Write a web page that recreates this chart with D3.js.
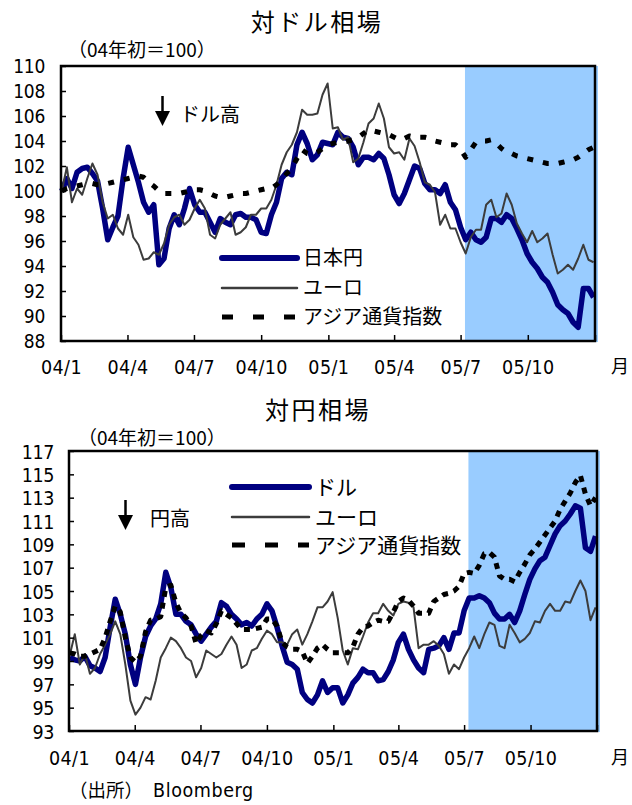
<!DOCTYPE html>
<html><head><meta charset="utf-8">
<script src="https://cdn.jsdelivr.net/npm/d3@7"></script>
<style>
body{margin:0;background:#fff;}
text{font-family:"Noto Sans CJK JP","Noto Sans",sans-serif;fill:#000;}
text.num, tspan.num{font-family:"Liberation Sans Narrow","DejaVu Sans Condensed",sans-serif;}
</style></head><body><svg id="c" width="632" height="805"></svg>
<script>
// ---------- DATA (weekly readings, index: start of 2004 = 100) ----------
const startDate = "2004-01-02";            // first weekly observation
const quarterTicks = ["2004-01-01","2004-04-01","2004-07-01","2004-10-01","2005-01-01","2005-04-01","2005-07-01","2005-10-01","2006-01-01"];
const shadeFrom = "2005-07-07";

// Top panel: 対ドル相場
const topYen = [100.0,101.0,100.2,101.5,101.8,101.9,101.4,100.8,98.6,96.1,97.1,98.0,101.0,103.5,102.1,100.7,99.1,98.3,98.9,94.1,94.6,97.0,98.1,97.3,98.6,100.2,98.9,98.3,98.3,97.5,96.7,97.8,97.5,97.3,98.1,98.2,97.9,97.9,97.7,96.7,96.6,98.1,99.1,101.0,101.5,101.3,103.7,104.7,103.8,102.5,102.9,103.9,103.8,103.7,104.7,104.3,104.2,103.5,102.1,102.7,102.7,102.5,103.0,102.6,101.3,99.7,99.0,99.8,100.9,102.0,101.8,100.6,100.1,100.1,99.8,100.5,99.1,98.5,97.1,96.1,96.7,96.1,95.9,96.3,97.8,97.8,97.5,98.1,97.8,97.0,96.1,95.0,94.3,93.8,93.1,92.7,91.9,90.9,90.5,90.2,89.5,89.1,92.2,92.2,91.5];
const topEuro = [100.0,101.9,99.1,100.2,99.7,101.0,102.2,101.3,99.1,97.8,98.1,97.0,96.5,98.1,96.3,95.7,94.5,94.6,95.1,94.9,95.8,97.3,97.9,98.1,97.3,97.7,98.6,99.3,98.6,96.5,96.2,97.3,97.8,98.3,96.5,96.7,97.1,98.1,98.1,98.6,98.6,99.3,100.5,102.1,103.1,103.7,104.7,106.5,106.1,106.1,106.2,107.7,108.6,105.0,105.1,104.1,104.3,102.3,102.6,103.9,105.4,105.8,107.0,105.8,103.5,103.0,103.1,102.5,104.2,103.6,102.3,100.7,100.5,99.9,97.3,98.1,97.0,97.0,95.9,95.0,96.3,96.9,96.9,98.9,99.3,97.9,98.2,99.8,98.9,97.4,96.6,95.9,96.8,95.9,96.2,96.6,94.9,93.4,93.7,94.1,93.7,94.6,95.7,94.5,94.3];
const topAsia = [100.0,100.2,100.3,100.4,100.5,100.6,100.6,100.5,100.5,100.6,100.7,100.8,100.9,101.0,101.1,101.2,101.1,100.7,100.4,100.0,99.8,99.8,99.8,99.8,99.9,100.0,100.1,100.1,100.0,99.8,99.6,99.5,99.5,99.6,99.7,99.8,99.8,99.9,100.0,100.1,100.2,100.2,100.5,100.9,101.4,101.8,102.6,103.3,103.0,102.9,103.1,103.4,103.7,103.8,103.9,103.9,104.0,104.1,104.3,104.6,104.9,104.8,104.7,104.6,104.5,104.3,104.1,104.2,104.4,104.3,104.3,104.3,104.2,104.0,103.9,103.8,103.7,103.7,103.3,102.7,103.3,103.9,104.0,104.0,104.1,103.8,103.4,103.1,103.0,102.8,102.7,102.6,102.5,102.4,102.3,102.2,102.2,102.2,102.3,102.4,102.5,102.7,103.0,103.3,103.5];
const topYTicks = [88,90,92,94,96,98,100,102,104,106,108,110];

// Bottom panel: 対円相場
const botUsd = [99.3,99.1,99.0,99.4,98.6,98.4,98.1,99.3,101.9,104.3,103.0,101.3,98.7,97.0,99.3,101.1,102.0,102.6,103.9,106.6,105.3,103.0,103.0,102.4,102.1,101.3,100.7,101.3,101.9,102.4,104.0,103.7,103.0,102.6,102.1,102.3,102.0,102.6,103.0,103.9,103.3,101.9,100.3,98.9,98.7,98.3,96.3,95.7,95.4,96.1,97.3,96.3,96.7,96.7,95.4,96.1,97.1,97.6,98.3,98.0,98.0,97.3,97.4,98.1,99.1,100.6,101.3,100.0,99.1,98.4,98.0,100.0,100.1,100.3,101.0,100.0,101.4,101.4,103.3,104.4,104.4,104.6,104.4,104.0,103.1,102.6,102.6,103.0,102.3,103.3,104.7,106.0,106.9,107.6,107.9,108.9,109.9,110.6,111.0,111.6,112.3,112.1,108.7,108.4,109.7];
const botEuro = [99.5,101.3,98.7,99.6,97.9,98.4,99.6,100.4,101.3,102.4,101.3,98.7,95.6,94.4,95.0,95.9,95.7,97.3,99.3,100.1,101.0,100.7,100.1,99.3,99.0,97.6,98.4,99.9,99.6,99.3,99.6,100.4,101.1,100.4,98.4,98.7,99.9,100.1,100.9,101.6,101.3,100.6,100.6,100.4,101.3,101.7,100.4,101.3,102.4,103.6,103.6,104.1,104.9,102.7,99.9,98.7,100.1,100.0,101.1,102.3,103.1,103.1,103.9,103.3,102.9,103.9,104.1,104.0,103.6,100.1,100.4,100.4,100.7,100.3,99.6,97.9,98.7,98.3,99.3,100.1,101.1,100.1,101.3,102.3,102.1,100.3,100.1,102.1,101.4,100.6,100.9,101.4,102.4,102.3,103.3,103.9,103.3,103.3,104.1,104.0,105.0,105.9,105.0,102.5,103.6];
const botAsia = [99.7,99.6,99.4,99.4,99.6,99.8,100.0,101.0,102.4,103.7,103.2,101.0,99.3,98.9,99.4,101.5,102.5,102.6,102.8,105.3,105.5,104.0,103.1,102.7,102.0,100.5,101.2,101.6,101.4,102.2,103.3,103.0,102.7,102.2,101.7,101.7,101.7,101.8,101.9,102.6,102.6,102.0,100.6,100.2,100.0,100.0,99.8,98.8,99.4,100.1,100.4,100.0,99.7,99.7,99.7,99.7,100.2,101.3,101.9,102.0,102.3,102.5,102.4,102.4,103.2,104.1,104.4,104.2,103.7,103.1,103.1,103.1,104.1,104.4,104.7,104.8,105.0,105.4,106.5,106.6,106.5,107.2,108.2,108.3,107.9,106.3,106.0,106.0,105.8,106.6,107.3,108.1,108.6,109.2,109.8,110.4,111.0,112.0,112.7,113.4,114.3,114.9,113.3,112.3,113.0];
const botYTicks = [93,95,97,99,101,103,105,107,109,111,113,115,117];

// ---------- DRAWING ----------
const svg = d3.select("#c");
const parse = d3.timeParse("%Y-%m-%d");
const d0 = parse(startDate);
const weeks = d3.range(topYen.length).map(i => d3.timeDay.offset(d0, 7 * i));
const qTicks = quarterTicks.map(parse);
const shadeStart = parse(shadeFrom);
const xDomain = [parse("2004-01-01"), parse("2006-01-01")];
const fmt = d => d.getFullYear() === 2006 ? "" : d3.timeFormat("%y")(d) + "/" + (d.getMonth() + 1);

function panel(p) {
  const g = svg.append("g");
  const x = d3.scaleTime().domain(xDomain).range([p.left, p.right]);
  const y = d3.scaleLinear().domain(p.yDomain).range([p.bottom, p.top]);

  g.append("rect").attr("x", x(shadeStart)).attr("y", p.top)
    .attr("width", p.right + 3 - x(shadeStart)).attr("height", p.bottom - p.top + 1)
    .attr("fill", "#99CCFF");

  const line = d3.line().x((d, i) => x(weeks[i])).y(d => y(d));
  p.series.forEach(s => {
    g.append("path").datum(s.values).attr("d", line)
      .attr("fill", "none").attr("stroke", s.color).attr("stroke-width", s.width)
      .attr("stroke-dasharray", s.plotDash || null).attr("stroke-linejoin", "round");
  });

  g.append("rect").attr("x", p.left).attr("y", p.top)
    .attr("width", p.right - p.left).attr("height", p.bottom - p.top)
    .attr("fill", "none").attr("stroke", "#000").attr("stroke-width", 2.5);

  const yg = g.append("g").attr("transform", `translate(${p.left},0)`)
    .call(d3.axisLeft(y).tickValues(p.yTicks).tickSize(-5).tickPadding(p.yPad));
  yg.select(".domain").remove();
  yg.selectAll("line").attr("stroke", "#000").attr("stroke-width", 1.5);
  yg.selectAll("text").attr("class", "num").attr("font-size", p.yFont).attr("dy", "0.36em")
    .attr("letter-spacing", p.yLs);

  const xg = g.append("g").attr("transform", `translate(0,${p.bottom})`)
    .call(d3.axisBottom(x).tickValues(qTicks).tickSize(-6).tickFormat(fmt));
  xg.select(".domain").remove();
  xg.selectAll("line").attr("stroke", "#000").attr("stroke-width", 1.5);
  xg.selectAll("text").attr("class", "num").attr("font-size", 19.5).attr("letter-spacing", 0.4)
    .attr("y", p.xLabOff).attr("dy", "0.36em");

  svg.append("text").attr("x", p.monthX).attr("y", p.bottom + p.xLabOff).attr("dy", "0.36em")
    .attr("text-anchor", "middle").attr("font-size", 18).text("月");

  // title & unit
  svg.append("text").attr("x", p.titleX).attr("y", p.titleY).attr("dy", "0.36em")
    .attr("text-anchor", "middle").attr("font-size", 24).attr("letter-spacing", 2.5).text(p.title);
  svg.append("text").attr("x", p.unitX).attr("y", p.unitY).attr("dy", "0.36em")
    .attr("font-size", 19).text("（04年初＝100）");

  // legend
  p.series.forEach((s, i) => {
    const ly = p.legY[i];
    svg.append("line").attr("x1", p.legX1).attr("x2", p.legX2).attr("y1", ly).attr("y2", ly)
      .attr("stroke", s.color).attr("stroke-width", s.legWidth)
      .attr("stroke-linecap", s.legDash ? "butt" : "round")
      .attr("stroke-dasharray", s.legDash || null);
    svg.append("text").attr("x", p.legText).attr("y", ly).attr("dy", "0.36em")
      .attr("font-size", p.legFont).text(s.name);
  });

  // arrow annotation
  const a = p.arrow;
  svg.append("line").attr("x1", a.x).attr("x2", a.x).attr("y1", a.y1).attr("y2", a.y2 - 12)
    .attr("stroke", "#000").attr("stroke-width", 2.5);
  svg.append("path").attr("d", `M${a.x - 7.5},${a.y2 - 15} L${a.x + 7.5},${a.y2 - 15} L${a.x},${a.y2} Z`).attr("fill", "#000");
  svg.append("text").attr("x", a.tx).attr("y", a.ty).attr("dy", "0.36em")
    .attr("font-size", 20).text(a.text);
}

panel({
  left: 61, right: 595, top: 66, bottom: 341, yDomain: [88, 110], yTicks: topYTicks,
  yPad: 16, yFont: 19, yLs: -0.3, xLabOff: 26, monthX: 620,
  title: "対ドル相場", titleX: 317, titleY: 22, unitX: 68, unitY: 50,
  legX1: 222, legX2: 297, legText: 303, legY: [258, 288, 317], legFont: 20,
  arrow: { x: 162.5, y1: 96, y2: 126, tx: 180, ty: 115, text: "ドル高" },
  series: [
    { name: "日本円", values: topYen, color: "#000080", width: 5.5, legWidth: 6 },
    { name: "ユーロ", values: topEuro, color: "#3c3c3c", width: 2, legWidth: 2.5 },
    { name: "アジア通貨指数", values: topAsia, color: "#000", width: 5, plotDash: "6,10", legDash: "11,20", legWidth: 5 }
  ]
});

panel({
  left: 69, right: 597, top: 451, bottom: 731, yDomain: [93, 117], yTicks: botYTicks,
  yPad: 15, yFont: 19.5, yLs: -0.4, xLabOff: 27, monthX: 620,
  title: "対円相場", titleX: 318, titleY: 410, unitX: 78, unitY: 438,
  legX1: 232, legX2: 309, legText: 315, legY: [487, 517, 545], legFont: 21,
  arrow: { x: 125.5, y1: 500, y2: 530, tx: 150, ty: 519, text: "円高" },
  series: [
    { name: "ドル", values: botUsd, color: "#000080", width: 5.5, legWidth: 6 },
    { name: "ユーロ", values: botEuro, color: "#3c3c3c", width: 2, legWidth: 2.5 },
    { name: "アジア通貨指数", values: botAsia, color: "#000", width: 5, plotDash: "6,6", legDash: "13,20", legWidth: 5 }
  ]
});

const src = svg.append("text").attr("x", 69).attr("y", 790).attr("dy", "0.36em").attr("font-size", 18.5);
src.append("tspan").text("（出所）");
src.append("tspan").attr("class", "num").attr("dx", 10).attr("font-size", 19.5).attr("letter-spacing", 0.6).text("Bloomberg");
</script></body></html>
